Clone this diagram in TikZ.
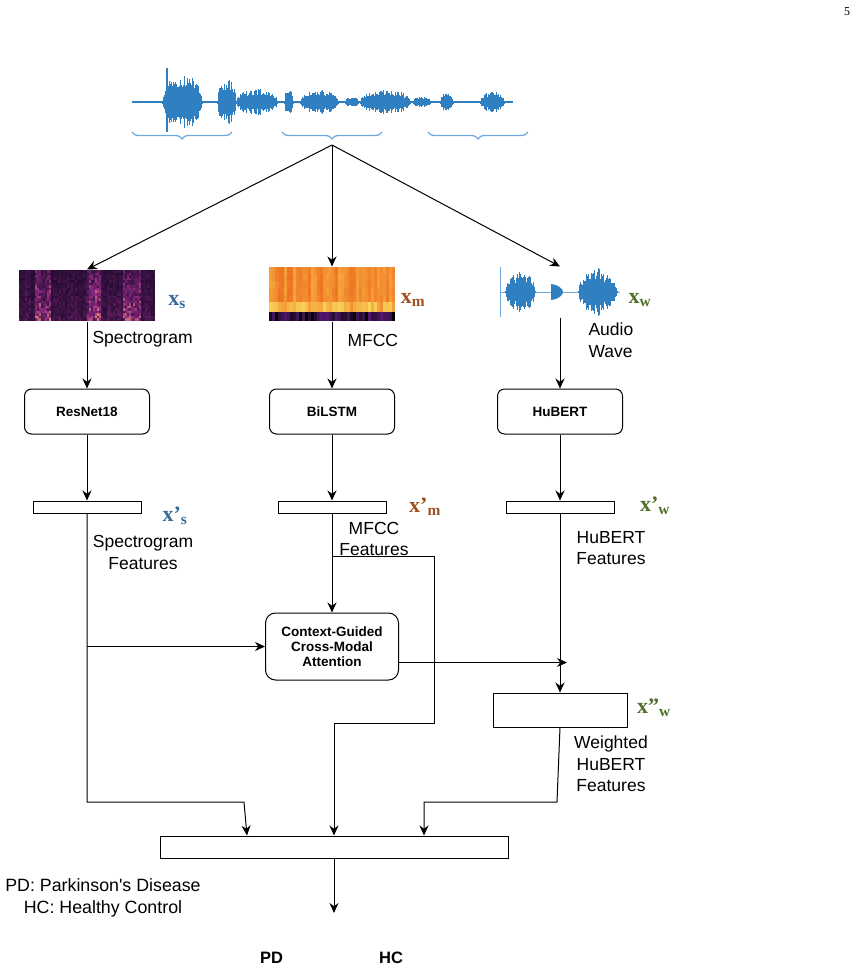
\documentclass[tikz,border=0pt]{standalone}
\usepackage{fontspec}
\setmainfont{Liberation Sans}
\newfontfamily\symfont{Liberation Serif}
\usetikzlibrary{arrows.meta,decorations.pathreplacing}
\definecolor{waveblue}{HTML}{2F7FC1}
\definecolor{bracecol}{HTML}{6FA8DC}
\definecolor{xscol}{HTML}{3A6A99}
\definecolor{xmcol}{HTML}{A0501E}
\definecolor{xwcol}{HTML}{4F6F2A}
\definecolor{spcdark}{HTML}{170828}
\definecolor{spcpurple}{HTML}{8C2981}
\definecolor{spcorange}{HTML}{F8A06A}
\definecolor{mfcclight}{HTML}{F8A53C}
\definecolor{mfccdeep}{HTML}{EC7424}
\definecolor{mfccyellow}{HTML}{F9D85C}
\definecolor{mfccorange}{HTML}{F29030}
\definecolor{mfccpurple}{HTML}{5A1A78}

\begin{document}
\begin{tikzpicture}[x=1pt, y=-1pt, >={Stealth[length=10pt,width=9pt]}, line width=1pt,
  procbox/.style={draw, rounded corners=7pt, minimum width=125pt, minimum height=45pt,
    font=\fontsize{13.5}{15}\selectfont\bfseries, align=center},
  featbar/.style={draw, minimum width=108pt, minimum height=12pt, inner sep=0pt},
  imgbox/.style={inner sep=0pt},
  lbl/.style={font=\fontsize{17.5}{21.5}\selectfont, inner sep=0pt},
  symlbl/.style={font=\fontsize{22}{24}\symfont\bfseries, inner sep=0pt},
  classlbl/.style={font=\fontsize{16.5}{18}\selectfont\bfseries, inner sep=0pt}]

\useasboundingbox (0,0) rectangle (857,970);
\node[font=\fontsize{12}{14}\symfont, inner sep=0pt] (pageno) at (847,12) {5};

% Input speech waveform
\draw[waveblue, line width=2.5pt] (132,102) -- (513,102);
\pgfmathsetseed{7}
\foreach \a/\b/\amp in {162/202/27, 217/236/22, 236/277/12, 284/293/16, 300/338/11,
    345/358/4, 360/410/11, 413/430/4, 440/453/8, 480/504/9}{
  \foreach \x in {\a,...,\b}{
    \pgfmathsetmacro\h{\amp*(0.45+0.55*rnd)*sqrt(abs(sin(180*(\x-\a)/(\b-\a))))+1.5}
    \draw[waveblue] (\x,102-\h) -- (\x,102+\h);
  }
}
\draw[waveblue, line width=1.2pt] (167,68) -- (167,132);

% Segment braces
\foreach \l/\r in {132/232, 282/382, 428/528}
  \draw[bracecol, line width=1.3pt, decorate, decoration={brace, mirror, amplitude=7pt}]
    (\l,132) -- (\r,132);
\coordinate (split) at (332,145);

% Spectrogram image
\node[imgbox, minimum width=136pt, minimum height=51pt] (spec) at (87,295.5) {};
\foreach \i in {0,...,67}{
  \pgfmathsetmacro\cx{19+2*\i}
  \pgfmathsetmacro\base{(0.35+0.5*(\cx>33)*(\cx<50)+0.55*(\cx>86)*(\cx<100)+0.45*(\cx>122)*(\cx<140))*(0.6+0.4*rnd)}
  \foreach \j in {0,...,19}{
    \pgfmathsetmacro\v{\base*(0.3+0.7*rnd)*(0.6+0.025*\j)}
    \pgfmathtruncatemacro\pa{min(100,190*\v)}
    \pgfmathtruncatemacro\pb{max(0,240*(\v-0.5))}
    \fill[spcorange!\pb!spcpurple!\pa!spcdark] (\cx,270+2.55*\j) rectangle ++(2,2.55);
  }
}

% MFCC image
\node[imgbox, minimum width=126pt, minimum height=54pt] (mfcc) at (332,294) {};
\foreach \i in {0,...,41}{
  \pgfmathsetmacro\cx{269+3*\i}
  \pgfmathsetmacro\colv{100*rnd}
  \foreach \j in {0,...,4}{
    \pgfmathtruncatemacro\pa{max(0,min(100,\colv+30*(rnd-0.5)))}
    \fill[mfcclight!\pa!mfccdeep] (\cx,267+7*\j) rectangle ++(3,7);
  }
  \pgfmathtruncatemacro\pa{100*rnd}
  \fill[mfccyellow!\pa!mfccorange] (\cx,302) rectangle ++(3,10);
  \pgfmathtruncatemacro\pa{100*rnd}
  \fill[mfccpurple!\pa!black] (\cx,312) rectangle ++(3,9);
}

% Audio wave image
\node[imgbox, minimum width=120pt, minimum height=50pt] (wave) at (560,292) {};
\draw[bracecol, line width=0.8pt] (500,267) -- (500,317);
\draw[bracecol] (500,292) -- (620,292);
\foreach \a/\b/\amp in {505/535/20, 578/617/23}{
  \foreach \x in {\a,...,\b}{
    \pgfmathsetmacro\h{\amp*(0.4+0.6*rnd)*sqrt(abs(sin(180*(\x-\a)/(\b-\a))))+1}
    \draw[waveblue] (\x,292-\h) -- (\x,292+\h);
  }
}
\fill[waveblue] (551,284) .. controls (559,285) and (563,289) .. (563,292)
  .. controls (563,295) and (559,299) .. (551,300) -- cycle;

% Input symbols
\node[symlbl, xscol] (xs) at (177,302) {x\textsubscript{s}};
\node[symlbl, xmcol] (xm) at (413,300) {x\textsubscript{m}};
\node[symlbl, xwcol] (xw) at (640,300) {x\textsubscript{w}};

\draw[->] (split) -- (spec.north);
\draw[->] (split) -- (mfcc.north);
\draw[->] (split) -- (wave.north);

\node[lbl, anchor=west] (speclbl) at (92,339) {Spectrogram};
\node[lbl, anchor=west] (mfcclbl) at (347,340) {MFCC};
\node[lbl, anchor=west, align=left] (wavelbl) at (588,340) {Audio\\Wave};

% Encoders
\node[procbox] (resnet) at (87,411.5) {ResNet18};
\node[procbox] (bilstm) at (332,411.5) {BiLSTM};
\node[procbox] (hubert) at (560,411.5) {HuBERT};
\draw[->] (spec.south) -- (resnet.north);
\draw[->] (mfcc.south) -- (bilstm.north);
\draw[->] (wave.south) -- (hubert.north);

% Feature vectors
\node[featbar] (fs) at (87,507) {};
\node[featbar] (fm) at (332,507) {};
\node[featbar] (fw) at (560,507) {};
\draw[->] (resnet.south) -- (fs.north);
\draw[->] (bilstm.south) -- (fm.north);
\draw[->] (hubert.south) -- (fw.north);
\node[symlbl, xscol] (xsp) at (175,516) {x’\textsubscript{s}};
\node[symlbl, xmcol] (xmp) at (425,507) {x’\textsubscript{m}};
\node[symlbl, xwcol] (xwp) at (655,506) {x’\textsubscript{w}};
\node[lbl, align=center] (fslbl) at (143,552.5) {Spectrogram\\Features};
\node[lbl, align=center] (fmlbl) at (374,539) {MFCC\\Features};
\node[lbl, align=center] (fwlbl) at (611,548) {HuBERT\\Features};

% Attention and weighting
\node[procbox, rounded corners=10pt, minimum width=133pt, minimum height=67pt]
  (cgcma) at (332,646.5) {Context-Guided\\Cross-Modal\\Attention};
\coordinate (mix) at (567,662.5);
\draw[->] (fm.south) -- (cgcma.north);
\draw[->] (fs.south |- cgcma.west) -- (cgcma.west);
\draw[->] (cgcma.east |- mix) -- (mix);
\node[draw, minimum width=134pt, minimum height=34pt] (whub) at (560,710) {};
\draw[->] (fw.south) -- (whub.north);
\node[symlbl, xwcol] (xwpp) at (654,708) {x”\textsubscript{w}};
\node[lbl, align=center] (whlbl) at (611,764) {Weighted\\HuBERT\\Features};

% Fusion
\node[draw, minimum width=348pt, minimum height=22pt] (fuse) at (334,847) {};
\coordinate (mtap) at (332,556);
\coordinate (lbend) at (244,802);
\coordinate (rbend) at (557,802);
\coordinate (out) at (334,913);
\draw[->] (mtap) -| (434,723) -| (fuse.north);
\draw[->] (fs.south) |- (lbend) -- ([xshift=-87pt]fuse.north);
\draw[->] (whub.south) -- (rbend) -- (424,802) -- ([xshift=90pt]fuse.north);
\draw[->] (fuse.south) -- (out);

% Legend and classes
\node[lbl, font=\fontsize{17.8}{22}\selectfont, align=center] (legend) at (103,898)
  {PD: Parkinson\textquotesingle s Disease\\HC: Healthy Control};
\node[classlbl] (pd) at (271.5,957.5) {PD};
\node[classlbl] (hc) at (391,957.5) {HC};

\end{tikzpicture}
\end{document}
